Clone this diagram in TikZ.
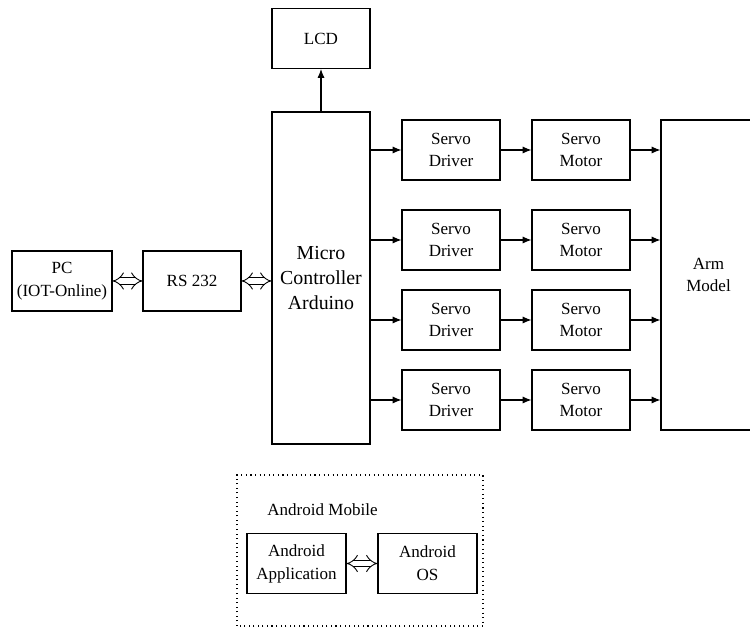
\documentclass[tikz,border=0pt]{standalone}
\usepackage{amsmath}
\usepackage{fontspec}
\setmainfont{Liberation Serif}
\usetikzlibrary{arrows.meta}

\begin{document}
\begin{tikzpicture}[
    every node/.style={font=\fontsize{9.7}{13}\selectfont},
    blockbox/.style={draw, line width=0.6pt, align=center, inner sep=0pt,
      minimum width=1.96cm, minimum height=1.2cm},
    link/.style={line width=0.6pt, -{Latex[length=5pt,width=4pt]}},
    duplex/.style={line width=0.5pt, double distance=3pt,
      {Implies[length=5pt,width=9pt]}-{Implies[length=5pt,width=9pt]}}
  ]

      \useasboundingbox (0,0) rectangle (15,12.56);

      \node [blockbox] (lcd) at (6.42,11.79) {LCD};
      \node [blockbox, minimum height=6.64cm,
        font=\fontsize{11.3}{14.2}\selectfont] (mcu) at (6.42,7.0)
        {Micro\\Controller\\Arduino};

      \node [blockbox, minimum width=2cm] (pc) at (1.24,6.94) {PC\\(IOT-Online)};
      \node [blockbox] (rs) at (3.84,6.94) {RS 232};

      \node [blockbox] (drvA) at (9.02,9.56) {Servo\\Driver};
      \node [blockbox] (drvB) at (9.02,7.76) {Servo\\Driver};
      \node [blockbox] (drvC) at (9.02,6.16) {Servo\\Driver};
      \node [blockbox] (drvD) at (9.02,4.56) {Servo\\Driver};

      \node [blockbox] (motA) at (11.62,9.56) {Servo\\Motor};
      \node [blockbox] (motB) at (11.62,7.76) {Servo\\Motor};
      \node [blockbox] (motC) at (11.62,6.16) {Servo\\Motor};
      \node [blockbox] (motD) at (11.62,4.56) {Servo\\Motor};

      \node [blockbox, minimum width=1.9cm, minimum height=6.2cm] (arm) at (14.17,7.06) {Arm\\Model};


      \draw [link] (mcu.north) -- (lcd.south);
      \draw [duplex] (pc.east) -- (rs.west);
      \draw [duplex] (rs.east) -- (mcu.west |- rs.east);

      \foreach \r in {A,B,C,D} {
        \draw [link] (mcu.east |- drv\r.west) -- (drv\r.west);
        \draw [link] (drv\r.east) -- (mot\r.west);
        \draw [link] (mot\r.east) -- (arm.west |- mot\r.east);
      }


      \draw [dotted, line width=0.6pt] (4.74,0.04) rectangle (9.66,3.06);
      \node [anchor=west, inner sep=0pt] (mobile) at (5.34,2.36) {Android Mobile};

      \node [blockbox, minimum width=1.98cm] (app) at (5.93,1.29) {Android\\Application};
      \node [blockbox, minimum width=1.98cm] (os) at (8.55,1.29) {Android\\OS};
      \draw [duplex] (app.east) -- (os.west);

\end{tikzpicture}
\end{document}
